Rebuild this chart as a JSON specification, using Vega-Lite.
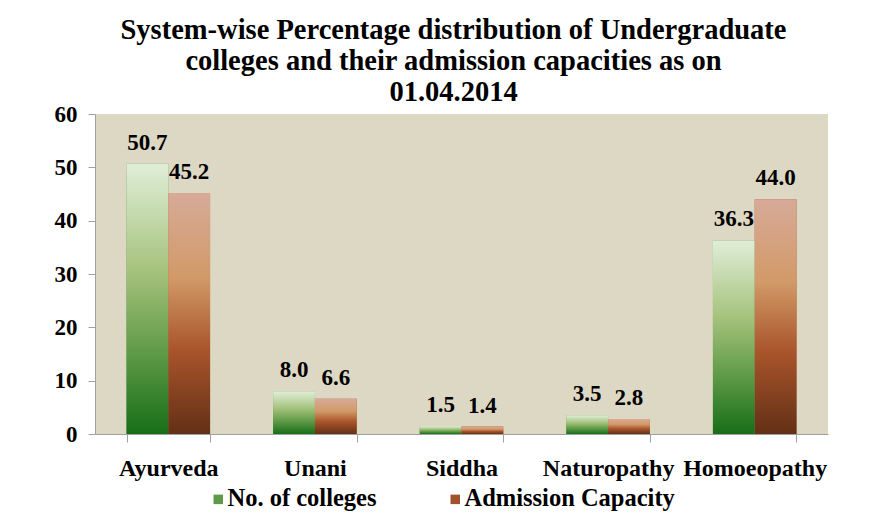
{
  "$schema": "https://vega.github.io/schema/vega-lite/v6.json",
  "autosize": "none",
  "width": 733,
  "height": 320,
  "padding": {"left": 95, "top": 114, "right": 49, "bottom": 83},
  "background": "white",
  "title": {
    "text": ["System-wise Percentage distribution of Undergraduate", "colleges and their admission capacities as on", "01.04.2014"],
    "font": "Liberation Serif, Times New Roman, serif",
    "fontSize": 28.5,
    "fontWeight": "bold",
    "color": "black",
    "lineHeight": 31,
    "anchor": "middle",
    "dx": -8,
    "offset": -3
  },
  "config": {
    "view": {"fill": "#ddd8c4", "stroke": null},
    "axis": {
      "labelFont": "Liberation Serif, Times New Roman, serif",
      "labelFontWeight": "bold",
      "labelFontSize": 23,
      "labelColor": "black",
      "domainColor": "#a0a0a0",
      "tickColor": "#a0a0a0",
      "grid": false,
      "title": null
    }
  },
  "data": {
    "values": [
      {"system": "Ayurveda", "series": "No. of colleges", "value": 50.7},
      {"system": "Ayurveda", "series": "Admission Capacity", "value": 45.2},
      {"system": "Unani", "series": "No. of colleges", "value": 8.0},
      {"system": "Unani", "series": "Admission Capacity", "value": 6.6},
      {"system": "Siddha", "series": "No. of colleges", "value": 1.5},
      {"system": "Siddha", "series": "Admission Capacity", "value": 1.4},
      {"system": "Naturopathy", "series": "No. of colleges", "value": 3.5},
      {"system": "Naturopathy", "series": "Admission Capacity", "value": 2.8},
      {"system": "Homoeopathy", "series": "No. of colleges", "value": 36.3},
      {"system": "Homoeopathy", "series": "Admission Capacity", "value": 44.0}
    ]
  },
  "encoding": {
    "x": {
      "field": "system",
      "type": "nominal",
      "sort": ["Ayurveda", "Unani", "Siddha", "Naturopathy", "Homoeopathy"],
      "scale": {"paddingInner": 0.43, "paddingOuter": 0.215},
      "axis": {"labelAngle": 0, "tickBand": "extent", "tickSize": 8, "labelPadding": 14, "labelFontSize": 24}
    },
    "xOffset": {
      "field": "series",
      "type": "nominal",
      "sort": ["No. of colleges", "Admission Capacity"],
      "scale": {"paddingInner": 0, "paddingOuter": 0}
    },
    "y": {
      "field": "value",
      "type": "quantitative",
      "scale": {"domain": [0, 60]},
      "axis": {"values": [0, 10, 20, 30, 40, 50, 60], "tickSize": 7, "labelPadding": 11}
    }
  },
  "layer": [
    {
      "mark": {"type": "bar"},
      "encoding": {
        "color": {
          "field": "series",
          "type": "nominal",
          "sort": ["No. of colleges", "Admission Capacity"],
          "scale": {"domain": ["No. of colleges", "Admission Capacity"], "range": ["#5f9a48", "#a0522d"]},
          "legend": {
            "title": null,
            "orient": "none",
            "direction": "horizontal",
            "legendX": 111,
            "legendY": 373,
            "labelFont": "Liberation Serif, Times New Roman, serif",
            "labelFontWeight": "bold",
            "labelFontSize": 24.5,
            "labelLimit": 400,
            "labelColor": "black",
            "symbolType": "square",
            "symbolSize": 90,
            "symbolStrokeWidth": 0,
            "labelOffset": -3,
            "columnPadding": 66
          }
        }
      }
    },
    {
      "transform": [{"filter": "datum.series === 'No. of colleges'"}],
      "mark": {
        "type": "bar",
        "fill": {
          "gradient": "linear", "x1": 0, "y1": 1, "x2": 0, "y2": 0,
          "stops": [
            {"offset": 0, "color": "#176e17"},
            {"offset": 0.3, "color": "#5f9a48"},
            {"offset": 0.6, "color": "#a5c27c"},
            {"offset": 1, "color": "#e0eed8"}
          ]
        }
      }
    },
    {
      "transform": [{"filter": "datum.series === 'Admission Capacity'"}],
      "mark": {
        "type": "bar",
        "fill": {
          "gradient": "linear", "x1": 0, "y1": 1, "x2": 0, "y2": 0,
          "stops": [
            {"offset": 0, "color": "#633016"},
            {"offset": 0.35, "color": "#a9552b"},
            {"offset": 0.65, "color": "#d29a68"},
            {"offset": 1, "color": "#d7aa98"}
          ]
        }
      }
    },
    {
      "mark": {
        "type": "text",
        "baseline": "bottom",
        "dy": -9,
        "font": "Liberation Serif, Times New Roman, serif",
        "fontWeight": "bold",
        "fontSize": 23,
        "color": "black"
      },
      "encoding": {
        "text": {"field": "value", "type": "quantitative", "format": ".1f"}
      }
    }
  ]
}
